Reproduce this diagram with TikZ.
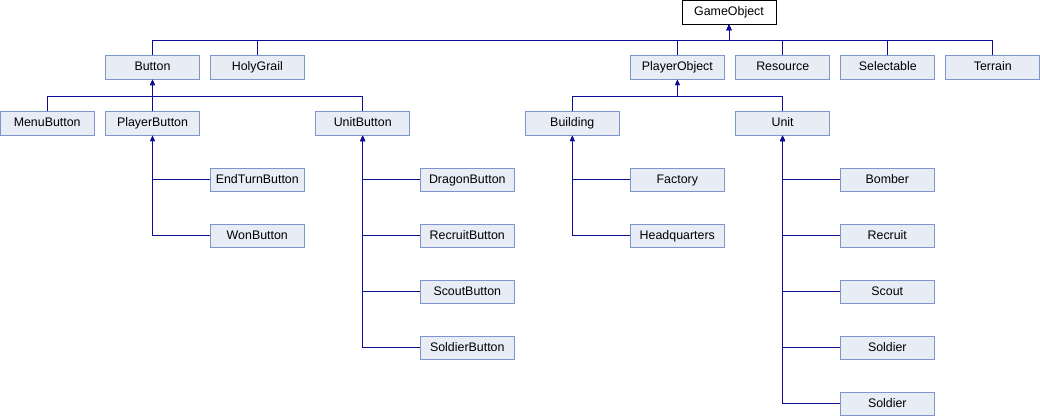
\documentclass[tikz,border=0pt]{standalone}
\usepackage{fontspec}
\setmainfont{Liberation Sans}
\usetikzlibrary{arrows.meta}
\definecolor{edgec}{HTML}{0C0C98}
\definecolor{boxfill}{HTML}{E8ECF5}
\definecolor{boxdraw}{HTML}{7C96CC}
\tikzset{
  cls/.style={draw=boxdraw, fill=boxfill, line width=0.75pt, minimum width=70.5pt, minimum height=17.4pt, inner sep=0pt, text height=6.9pt, text depth=1.9pt, font=\fontsize{9.3pt}{10pt}\selectfont},
  root/.style={cls, draw=black, fill=white},
  inh/.style={draw=edgec, line width=0.75pt, -{Triangle[width=3.6pt,length=4.2pt]}},
}
\begin{document}
\begin{tikzpicture}[x=0.75pt,y=-0.75pt]
\useasboundingbox (0,0) rectangle (1040,416);
% nodes
\node[root] (GameObject) at (729,12.5) {GameObject};
\node[cls] (Button) at (152.5,67.5) {Button};
\node[cls] (HolyGrail) at (257.3,67.5) {HolyGrail};
\node[cls] (PlayerObject) at (677.4,67.5) {PlayerObject};
\node[cls] (Resource) at (782.8,67.5) {Resource};
\node[cls] (Selectable) at (887.8,67.5) {Selectable};
\node[cls] (Terrain) at (992.8,67.5) {Terrain};
\node[cls] (MenuButton) at (47.2,123.5) {MenuButton};
\node[cls] (PlayerButton) at (152.5,123.5) {PlayerButton};
\node[cls] (UnitButton) at (362.7,123.5) {UnitButton};
\node[cls] (Building) at (572.3,123.5) {Building};
\node[cls] (Unit) at (782.6,123.5) {Unit};
\node[cls] (EndTurnButton) at (257.3,180) {EndTurnButton};
\node[cls] (WonButton) at (257.3,236) {WonButton};
\node[cls] (DragonButton) at (467.3,180) {DragonButton};
\node[cls] (RecruitButton) at (467.3,236) {RecruitButton};
\node[cls] (ScoutButton) at (467.3,292) {ScoutButton};
\node[cls] (SoldierButton) at (467.3,348) {SoldierButton};
\node[cls] (Factory) at (677.3,180) {Factory};
\node[cls] (Headquarters) at (677.3,236) {Headquarters};
\node[cls] (Bomber) at (887.3,180) {Bomber};
\node[cls] (Recruit) at (887.3,236) {Recruit};
\node[cls] (Scout) at (887.3,292) {Scout};
\node[cls] (Soldier) at (887.3,348) {Soldier};
\node[cls] (SoldierB) at (887.3,404) {Soldier};
% bus coordinates
\coordinate (busG) at (0,41);
\coordinate (busB) at (0,96.3);
\coordinate (busP) at (0,96.3);
% GameObject children
\foreach \c in {Button,HolyGrail,PlayerObject,Resource,Selectable,Terrain}
  \draw[inh] (\c.north) -- (\c.north |- busG) -| (GameObject.south);
% Button children
\foreach \c in {MenuButton,PlayerButton,UnitButton}
  \draw[inh] (\c.north) -- (\c.north |- busB) -| (Button.south);
% PlayerObject children
\foreach \c in {Building,Unit}
  \draw[inh] (\c.north) -- (\c.north |- busP) -| (PlayerObject.south);
% trunks
\foreach \c in {EndTurnButton,WonButton}
  \draw[inh] (\c.west) -| (PlayerButton.south);
\foreach \c in {DragonButton,RecruitButton,ScoutButton,SoldierButton}
  \draw[inh] (\c.west) -| (UnitButton.south);
\foreach \c in {Factory,Headquarters}
  \draw[inh] (\c.west) -| (Building.south);
\foreach \c in {Bomber,Recruit,Scout,Soldier,SoldierB}
  \draw[inh] (\c.west) -| (Unit.south);
\end{tikzpicture}
\end{document}
